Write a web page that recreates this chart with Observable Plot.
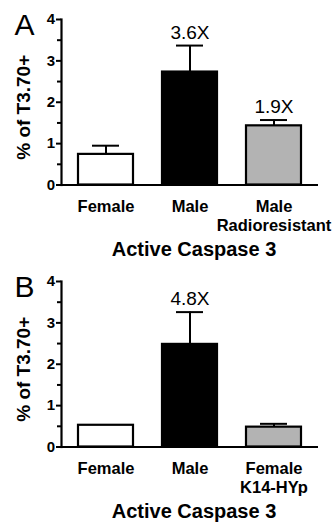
<!DOCTYPE html>
<html>
<head>
<meta charset="utf-8">
<script src="https://cdn.jsdelivr.net/npm/d3@7"></script>
<script src="https://cdn.jsdelivr.net/npm/@observablehq/plot@0.6"></script>
<style>
  html, body { margin: 0; padding: 0; background: #fff; overflow: hidden; }
  #chart { width: 336px; }
  #chart svg { display: block; font-family: "Liberation Sans", Arial, Helvetica, sans-serif; }
</style>
</head>
<body>
<div id="chart"></div>
<script>
// ---- data ----
const categoriesA = ["Female", "Male", "Male\nRadioresistant"];
const valuesA = [0.74, 2.73, 1.43];
const errorTopA = [0.95, 3.37, 1.57];
const foldA = ["", "3.6X", "1.9X"];

const categoriesB = ["Female", "Male", "Female\nK14-HYp"];
const valuesB = [0.525, 2.48, 0.48];
const errorTopB = [null, 3.26, 0.56];
const foldB = ["", "4.8X", ""];

const barFills = ["white", "black", "#b3b3b3"];
const yTicks = [0, 1, 2, 3, 4];
const yMinorTicks = [0.5, 1.5, 2.5, 3.5];
const yLabel = "% of T3.70+";
const caption = "Active Caspase 3";

function panel(letter, cats, vals, errs, folds, h) {
  const data = cats.map((c, i) => ({cat: c, value: vals[i], err: errs[i], fold: folds[i], fill: barFills[i]}));
  const withErr = data.filter(d => d.err != null);
  return Plot.plot({
    width: 336,
    height: h,
    marginTop: 19,
    marginLeft: 61,
    marginRight: 18,
    marginBottom: h - 184.5,
    style: {fontFamily: "'Liberation Sans', Arial, Helvetica, sans-serif", background: "white"},
    x: {domain: cats, paddingInner: 0.34, paddingOuter: 0.19, axis: null},
    y: {domain: [0, 4], axis: null},
    color: {type: "identity"},
    marks: [
      Plot.axisY(yTicks, {tickSize: 5, tickPadding: 1.5, fontSize: 15, fontWeight: "bold", strokeWidth: 2, label: null}),
      Plot.axisY(yMinorTicks, {tickSize: 4, strokeWidth: 2, tickFormat: () => "", label: null}),
      Plot.frame({anchor: "left", strokeWidth: 2.2}),
      Plot.ruleX(withErr, {x: "cat", y1: "value", y2: "err", strokeWidth: 2}),
      Plot.tickY(withErr, {x: "cat", y: "err", strokeWidth: 2, insetLeft: 14, insetRight: 14}),
      Plot.barY(data, {x: "cat", y: "value", fill: "fill", stroke: "black", strokeWidth: 2.2}),
      Plot.ruleY([0], {strokeWidth: 2.2}),
      Plot.text(data, {x: "cat", y: "err", text: "fold", lineAnchor: "bottom", dy: -7, fontSize: 19}),
      Plot.text(data, {x: "cat", text: "cat", frameAnchor: "bottom", lineAnchor: "top", dy: 13.8, fontSize: 16.5, fontWeight: "bold", lineHeight: 1.15}),
      Plot.text([caption], {frameAnchor: "bottom", text: d => d, textAnchor: "middle", lineAnchor: "bottom", dy: 70.5, dx: 4, fontSize: 20, fontWeight: "bold"}),
      Plot.text([yLabel], {frameAnchor: "left", text: d => d, rotate: -90, textAnchor: "middle", lineAnchor: "middle", dx: -38, dy: 5, fontSize: 19, fontWeight: "bold"}),
      Plot.text([letter], {frameAnchor: "top-left", text: d => d, textAnchor: "start", lineAnchor: "bottom", dx: -47, dy: 15, fontSize: 30})
    ]
  });
}

const root = document.getElementById("chart");
root.appendChild(panel("A", categoriesA, valuesA, errorTopA, foldA, 262));
root.appendChild(panel("B", categoriesB, valuesB, errorTopB, foldB, 261));
</script>
</body>
</html>
